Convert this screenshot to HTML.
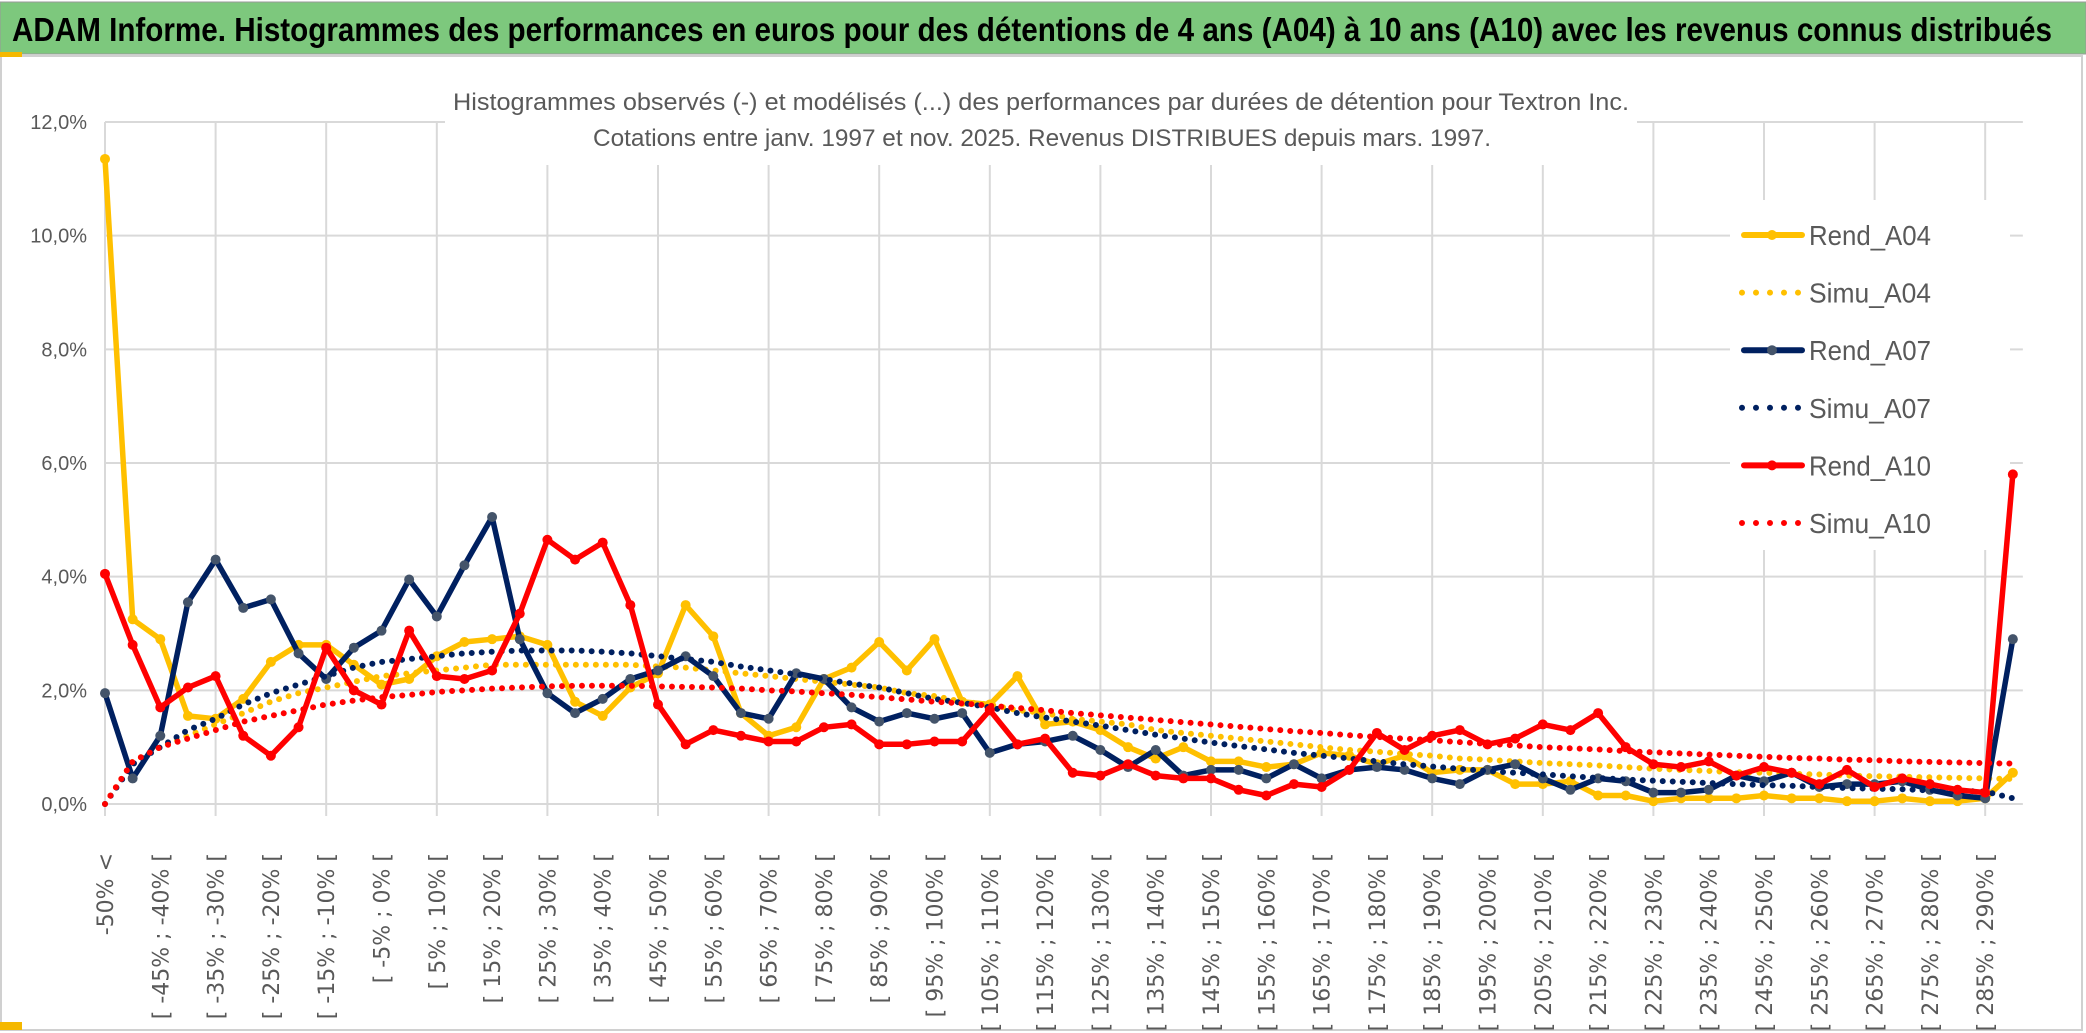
<!DOCTYPE html>
<html><head><meta charset="utf-8"><style>
html,body{margin:0;padding:0;background:#fff;}
svg{display:block;}
</style></head><body>
<svg id="chart" width="2086" height="1033" viewBox="0 0 2086 1033" xmlns="http://www.w3.org/2000/svg">
<rect x="0" y="0" width="2086" height="1033" fill="#fff"/>
<rect x="1" y="56" width="2081" height="974" fill="#fff" stroke="#d0d0d0" stroke-width="2"/>
<rect x="0" y="2" width="2086" height="52" fill="#7dc87d" stroke="#999" stroke-width="1"/>
<rect x="0" y="52" width="22" height="5" fill="#f5b800"/>
<rect x="0" y="1022" width="22" height="8" fill="#f5b800"/>
<text x="12" y="41" font-family="'Liberation Sans',sans-serif" font-weight="bold" font-size="33" fill="#000" textLength="2040" lengthAdjust="spacingAndGlyphs">ADAM Informe. Histogrammes des performances en euros pour des détentions de 4 ans (A04) à 10 ans (A10) avec les revenus connus distribués</text>
<g id="grid"></g>
<rect x="445" y="80" width="1192" height="85" fill="#fff"/>
<text x="1041" y="110" text-anchor="middle" font-family="'Liberation Sans',sans-serif" font-size="24" fill="#595959" textLength="1176" lengthAdjust="spacingAndGlyphs">Histogrammes observés (-) et modélisés (...) des performances par durées de détention pour Textron Inc.</text>
<text x="1042" y="146" text-anchor="middle" font-family="'Liberation Sans',sans-serif" font-size="24" fill="#595959" textLength="898" lengthAdjust="spacingAndGlyphs">Cotations entre janv. 1997 et nov. 2025. Revenus DISTRIBUES depuis mars. 1997.</text>
<g id="axes"></g>
<rect x="1730" y="200" width="280" height="350" fill="#fff"/>
<g id="series"></g>
<g id="legend"></g>
</svg>
<script>
const categories = ["-50% <","[ -50% ; -45% [","[ -45% ; -40% [","[ -40% ; -35% [","[ -35% ; -30% [","[ -30% ; -25% [","[ -25% ; -20% [","[ -20% ; -15% [","[ -15% ; -10% [","[ -10% ; -5% [","[ -5% ; 0% [","[ 0% ; 5% [","[ 5% ; 10% [","[ 10% ; 15% [","[ 15% ; 20% [","[ 20% ; 25% [","[ 25% ; 30% [","[ 30% ; 35% [","[ 35% ; 40% [","[ 40% ; 45% [","[ 45% ; 50% [","[ 50% ; 55% [","[ 55% ; 60% [","[ 60% ; 65% [","[ 65% ; 70% [","[ 70% ; 75% [","[ 75% ; 80% [","[ 80% ; 85% [","[ 85% ; 90% [","[ 90% ; 95% [","[ 95% ; 100% [","[ 100% ; 105% [","[ 105% ; 110% [","[ 110% ; 115% [","[ 115% ; 120% [","[ 120% ; 125% [","[ 125% ; 130% [","[ 130% ; 135% [","[ 135% ; 140% [","[ 140% ; 145% [","[ 145% ; 150% [","[ 150% ; 155% [","[ 155% ; 160% [","[ 160% ; 165% [","[ 165% ; 170% [","[ 170% ; 175% [","[ 175% ; 180% [","[ 180% ; 185% [","[ 185% ; 190% [","[ 190% ; 195% [","[ 195% ; 200% [","[ 200% ; 205% [","[ 205% ; 210% [","[ 210% ; 215% [","[ 215% ; 220% [","[ 220% ; 225% [","[ 225% ; 230% [","[ 230% ; 235% [","[ 235% ; 240% [","[ 240% ; 245% [","[ 245% ; 250% [","[ 250% ; 255% [","[ 255% ; 260% [","[ 260% ; 265% [","[ 265% ; 270% [","[ 270% ; 275% [","[ 275% ; 280% [","[ 280% ; 285% [","[ 285% ; 290% [","> 290%"];
const yTicks = [0,2,4,6,8,10,12];
const yTickLabels = ["0,0%","2,0%","4,0%","6,0%","8,0%","10,0%","12,0%"];
const rendA04 = [11.35,3.25,2.9,1.55,1.5,1.85,2.5,2.8,2.8,2.45,2.1,2.2,2.6,2.85,2.9,2.95,2.8,1.8,1.55,2.05,2.3,3.5,2.95,1.6,1.2,1.35,2.2,2.4,2.85,2.35,2.9,1.8,1.75,2.25,1.4,1.45,1.3,1.0,0.8,1.0,0.75,0.75,0.65,0.7,0.9,0.85,0.7,0.85,0.55,0.6,0.6,0.35,0.35,0.4,0.15,0.15,0.05,0.1,0.1,0.1,0.15,0.1,0.1,0.05,0.05,0.1,0.05,0.05,0.1,0.55];
const simuA04 = [0,0.75,1.0,1.2,1.4,1.6,1.8,1.95,2.05,2.15,2.25,2.3,2.35,2.4,2.45,2.45,2.45,2.45,2.45,2.45,2.42,2.4,2.35,2.3,2.25,2.2,2.15,2.1,2.05,1.95,1.9,1.8,1.75,1.65,1.6,1.5,1.45,1.4,1.3,1.25,1.2,1.15,1.1,1.05,1.0,0.95,0.92,0.88,0.85,0.8,0.78,0.75,0.72,0.7,0.68,0.65,0.62,0.6,0.58,0.56,0.55,0.53,0.52,0.5,0.49,0.48,0.47,0.46,0.45,0.44];
const rendA07 = [1.95,0.45,1.2,3.55,4.3,3.45,3.6,2.65,2.2,2.75,3.05,3.95,3.3,4.2,5.05,2.9,1.95,1.6,1.85,2.2,2.35,2.6,2.25,1.6,1.5,2.3,2.2,1.7,1.45,1.6,1.5,1.6,0.9,1.05,1.1,1.2,0.95,0.65,0.95,0.5,0.6,0.6,0.45,0.7,0.45,0.6,0.65,0.6,0.45,0.35,0.6,0.7,0.45,0.25,0.45,0.4,0.2,0.2,0.25,0.5,0.4,0.55,0.3,0.35,0.35,0.4,0.25,0.15,0.1,2.9];
const simuA07 = [0,0.7,1.0,1.3,1.5,1.75,1.95,2.1,2.25,2.4,2.5,2.55,2.6,2.65,2.68,2.7,2.7,2.7,2.68,2.65,2.6,2.55,2.5,2.42,2.35,2.28,2.2,2.12,2.05,1.95,1.85,1.78,1.7,1.6,1.52,1.45,1.38,1.3,1.22,1.15,1.08,1.02,0.96,0.9,0.85,0.8,0.75,0.7,0.66,0.62,0.58,0.55,0.52,0.49,0.46,0.43,0.41,0.39,0.37,0.35,0.33,0.32,0.3,0.28,0.27,0.26,0.24,0.23,0.22,0.1];
const rendA10 = [4.05,2.8,1.7,2.05,2.25,1.2,0.85,1.35,2.75,2.0,1.75,3.05,2.25,2.2,2.35,3.35,4.65,4.3,4.6,3.5,1.75,1.05,1.3,1.2,1.1,1.1,1.35,1.4,1.05,1.05,1.1,1.1,1.65,1.05,1.15,0.55,0.5,0.7,0.5,0.45,0.45,0.25,0.15,0.35,0.3,0.6,1.25,0.95,1.2,1.3,1.05,1.15,1.4,1.3,1.6,1.0,0.7,0.65,0.75,0.5,0.65,0.55,0.35,0.6,0.3,0.45,0.35,0.25,0.2,5.8];
const simuA10 = [0,0.75,1.0,1.15,1.3,1.45,1.55,1.65,1.75,1.82,1.88,1.92,1.97,2.0,2.03,2.05,2.07,2.08,2.08,2.08,2.07,2.06,2.05,2.03,2.0,1.98,1.95,1.92,1.88,1.84,1.8,1.77,1.73,1.69,1.65,1.6,1.56,1.52,1.48,1.44,1.4,1.36,1.32,1.28,1.25,1.21,1.18,1.15,1.12,1.09,1.06,1.03,1.0,0.98,0.96,0.93,0.91,0.89,0.87,0.85,0.83,0.81,0.8,0.78,0.77,0.75,0.74,0.73,0.72,0.71];

const NS = "http://www.w3.org/2000/svg";
const X0 = 105, DX = 27.65, Y0 = 804, YS = (804 - 122) / 12;
function xPos(i){ return X0 + i * DX; }
function yPos(v){ return Y0 - v * YS; }
function mk(tag, attrs, parent){
  const e = document.createElementNS(NS, tag);
  for (const k in attrs) e.setAttribute(k, attrs[k]);
  parent.appendChild(e);
  return e;
}
const grid = document.getElementById('grid');
const axes = document.getElementById('axes');
const series = document.getElementById('series');
const legend = document.getElementById('legend');
const xEnd = xPos(categories.length - 1) + 10;

yTicks.forEach((t, k) => {
  const l = mk('line', {x1: X0, x2: xEnd, y1: yPos(t), y2: yPos(t), stroke: '#d9d9d9', 'stroke-width': 2}, grid);
  
  
  const tx = mk('text', {x: 87, y: yPos(t) + 7, 'text-anchor': 'end', 'font-family': "'Liberation Sans',sans-serif", 'font-size': 20, fill: '#595959'}, axes);
  tx.textContent = yTickLabels[k];
  
  
});
for (let i = 0; i < categories.length; i += 4) {
  const l = mk('line', {x1: xPos(i), x2: xPos(i), y1: yPos(12), y2: Y0 + 12, stroke: '#d9d9d9', 'stroke-width': 2}, grid);
  
  
}
categories.forEach((c, i) => {
  if (i % 2 !== 0) return;
  const x = xPos(i);
  const tx = mk('text', {x: 0, y: 0, transform: `translate(${x + 8},853) rotate(-90)`, 'text-anchor': 'end', 'font-family': "'DejaVu Sans',sans-serif", 'font-size': 22, fill: '#595959'}, axes);
  tx.textContent = c;
  
  
});

const defs = [
  {name: 'Rend_A04', data: rendA04, color: '#ffc000', marker: '#ffc000', dotted: false},
  {name: 'Simu_A04', data: simuA04, color: '#ffc000', dotted: true},
  {name: 'Rend_A07', data: rendA07, color: '#002060', marker: '#44546a', dotted: false},
  {name: 'Simu_A07', data: simuA07, color: '#002060', dotted: true},
  {name: 'Rend_A10', data: rendA10, color: '#ff0000', marker: '#ff0000', dotted: false},
  {name: 'Simu_A10', data: simuA10, color: '#ff0000', dotted: true}
];
defs.forEach(s => {
  const g = mk('g', {}, series);
  
  
  const pts = s.data.map((v, i) => xPos(i).toFixed(1) + ',' + yPos(v).toFixed(1)).join(' ');
  const pl = mk('polyline', {points: pts, fill: 'none', stroke: s.color, 'stroke-width': s.dotted ? 6 : 5.5, 'stroke-linejoin': 'round', 'stroke-linecap': 'round'}, g);
  if (s.dotted) pl.setAttribute('stroke-dasharray', '0 10');
  
  
  if (!s.dotted) {
    s.data.forEach((v, i) => {
      const c = mk('circle', {cx: xPos(i), cy: yPos(v), r: 5, fill: s.marker}, g);
      
      
    });
  }
});

defs.forEach((s, k) => {
  const y = 235 + k * 57.6;
  const g = mk('g', {}, legend);
  
  
  if (s.dotted) {
    const l = mk('line', {x1: 1742, x2: 1802, y1: y, y2: y, stroke: s.color, 'stroke-width': 6, 'stroke-linecap': 'round', 'stroke-dasharray': '0 14'}, g);
    
    
  } else {
    const l = mk('line', {x1: 1744, x2: 1802, y1: y, y2: y, stroke: s.color, 'stroke-width': 6, 'stroke-linecap': 'round'}, g);
    
    
    const c = mk('circle', {cx: 1772, cy: y, r: 5, fill: s.marker}, g);
    
    
  }
  const t = mk('text', {x: 1809, y: y + 10, 'font-family': "'Liberation Sans',sans-serif", 'font-size': 28, fill: '#595959', textLength: 122, lengthAdjust: 'spacingAndGlyphs'}, g);
  t.textContent = s.name;
  
  
});
</script>
</body></html>
